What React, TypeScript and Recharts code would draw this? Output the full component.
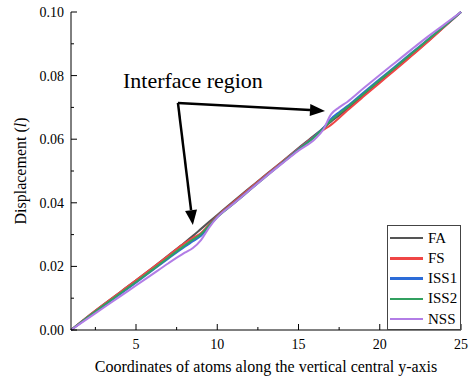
import React from 'react';
import { LineChart, Line, XAxis, YAxis, Legend, ReferenceLine, Label } from 'recharts';

// x positions of the atoms (half steps near the two interfaces)
const X = [1, 2, 3, 4, 5, 6, 7, 8, 8.5, 9, 9.5, 10, 11, 12, 13, 14, 15, 16, 16.5, 17, 17.5, 18, 19, 20, 21, 22, 23, 24, 25];

const FA = [0, 0.0041, 0.008, 0.0118, 0.0156, 0.0195, 0.0235, 0.0275, 0.0296, 0.0318, 0.034, 0.0362, 0.0405, 0.0447, 0.0489, 0.053, 0.0572, 0.0613, 0.0634, 0.0655, 0.0675, 0.0696, 0.0738, 0.078, 0.0823, 0.0866, 0.091, 0.0955, 0.1];
const FS = [0, 0.0041, 0.008, 0.0118, 0.0156, 0.0195, 0.0234, 0.0273, 0.029, 0.0305, 0.0332, 0.0358, 0.0402, 0.0445, 0.0487, 0.0529, 0.057, 0.061, 0.0628, 0.0645, 0.0667, 0.069, 0.0734, 0.0777, 0.082, 0.0864, 0.0908, 0.0954, 0.1];
const ISS1 = [0, 0.0038, 0.0075, 0.0112, 0.0149, 0.0187, 0.0225, 0.0262, 0.0279, 0.0296, 0.0327, 0.0355, 0.0398, 0.0441, 0.0484, 0.0526, 0.0568, 0.0609, 0.0634, 0.0664, 0.0685, 0.0704, 0.0747, 0.0789, 0.0831, 0.0873, 0.0915, 0.0957, 0.1];
const ISS2 = [0, 0.0039, 0.0077, 0.0114, 0.0151, 0.0189, 0.0228, 0.0266, 0.0284, 0.0301, 0.0329, 0.0355, 0.0397, 0.044, 0.0483, 0.0525, 0.0567, 0.0608, 0.0632, 0.0659, 0.068, 0.07, 0.0743, 0.0786, 0.0828, 0.0871, 0.0914, 0.0957, 0.1];
const NSS = [0, 0.0035, 0.007, 0.0105, 0.014, 0.0175, 0.021, 0.0243, 0.0258, 0.0283, 0.0322, 0.0354, 0.0397, 0.044, 0.0483, 0.0524, 0.0564, 0.06, 0.0628, 0.0678, 0.07, 0.0717, 0.076, 0.0802, 0.0843, 0.0884, 0.0924, 0.0962, 0.1];

const X_TICKS = [2.5, 5, 7.5, 10, 12.5, 15, 17.5, 20, 22.5, 25];
const Y_TICKS = [0, 0.01, 0.02, 0.03, 0.04, 0.05, 0.06, 0.07, 0.08, 0.09, 0.1];

// annotation arrows, in data units
const ARROW_FROM = { x: 7.58, y: 0.0714 };
const ARROW_TO = [{ x: 8.5, y: 0.033 }, { x: 16.63, y: 0.0689 }];

const SERIES = [
  { key: 'FA', values: FA, color: '#555555' },
  { key: 'FS', values: FS, color: '#ef4646' },
  { key: 'ISS1', values: ISS1, color: '#2c6cd8' },
  { key: 'ISS2', values: ISS2, color: '#31a060' },
  { key: 'NSS', values: NSS, color: '#b27de6' },
];

const data = X.map((x, i) => {
  const row: any = { x };
  SERIES.forEach((s) => (row[s.key] = s.values[i]));
  return row;
});

const FONT = '"Liberation Serif", "Times New Roman", serif';

const XTick = ({ x, y, payload, top }: any) => {
  const v = payload.value;
  const major = v % 5 === 0;
  const len = major ? 6 : 3;
  return (
    <g>
      <line x1={x} x2={x} y1={y} y2={top ? y + len : y - len} stroke="#000" strokeWidth={1} />
      {!top && major && (
        <text x={x} y={y + 19} textAnchor="middle" fontSize={14} fontFamily={FONT} fill="#000">
          {v}
        </text>
      )}
    </g>
  );
};

const YTick = ({ x, y, payload, right }: any) => {
  const v = payload.value;
  const major = Math.round(v * 100) % 2 === 0;
  const len = major ? 6 : 3;
  return (
    <g>
      <line x1={x} x2={right ? x - len : x + len} y1={y} y2={y} stroke="#000" strokeWidth={1} />
      {!right && major && (
        <text x={x - 7} y={y + 5} textAnchor="end" fontSize={14} fontFamily={FONT} fill="#000">
          {v.toFixed(2)}
        </text>
      )}
    </g>
  );
};

const Arrow = (props: any) => {
  const { x1, y1, x2, y2 } = props;
  const ang = Math.atan2(y2 - y1, x2 - x1);
  const len = 15;
  const half = 6;
  const bx = x2 - len * Math.cos(ang);
  const by = y2 - len * Math.sin(ang);
  const px = -Math.sin(ang) * half;
  const py = Math.cos(ang) * half;
  return (
    <g>
      <line x1={x1} y1={y1} x2={bx} y2={by} stroke="#000" strokeWidth={2.5} />
      <polygon points={`${x2},${y2} ${bx + px},${by + py} ${bx - px},${by - py}`} fill="#000" />
    </g>
  );
};

const LegendBox = () => (
  <div
    style={{
      border: '1px solid #444',
      background: '#fff',
      boxSizing: 'border-box',
      width: 74,
      height: 105,
      paddingTop: 2,
      paddingLeft: 2,
      fontFamily: FONT,
      fontSize: 15,
      color: '#000',
    }}
  >
    {SERIES.map((s) => (
      <div key={s.key} style={{ display: 'flex', alignItems: 'center', height: 20.25 }}>
        <span style={{ display: 'inline-block', width: 33, height: 2.5, background: s.color, marginRight: 5 }} />
        <span>{s.key}</span>
      </div>
    ))}
  </div>
);

export default function App() {
  return (
    <div style={{ position: 'absolute', left: 0, top: 0, width: 469, height: 379, background: '#fff', fontFamily: FONT }}>
      <LineChart width={469} height={379} data={data} margin={{ top: 12, right: 8, bottom: 0, left: 0 }}>
        <XAxis
          dataKey="x"
          type="number"
          domain={[1, 25]}
          ticks={X_TICKS}
          interval={0}
          tickSize={0}
          tickMargin={0}
          height={49}
          stroke="#000"
          tick={<XTick />}
        >
          <Label
            content={({ viewBox }: any) => (
              <text x={viewBox.x + viewBox.width / 2} y={viewBox.y + 42} textAnchor="middle" fontSize={16} fontFamily={FONT} fill="#000">
                Coordinates of atoms along the vertical central y-axis
              </text>
            )}
          />
        </XAxis>
        <XAxis
          xAxisId="top"
          orientation="top"
          type="number"
          domain={[1, 25]}
          ticks={X_TICKS}
          interval={0}
          tickSize={0}
          tickMargin={0}
          height={0}
          stroke="#000"
          tick={<XTick top />}
        />
        <YAxis
          type="number"
          domain={[0, 0.1]}
          ticks={Y_TICKS}
          interval={0}
          tickSize={0}
          tickMargin={0}
          width={71}
          stroke="#000"
          tick={<YTick />}
        >
          <Label
            content={({ viewBox }: any) => {
              const cx = 26;
              const cy = viewBox.y + viewBox.height / 2;
              return (
                <text x={cx} y={cy} transform={`rotate(-90, ${cx}, ${cy})`} textAnchor="middle" fontSize={16} fontFamily={FONT} fill="#000">
                  Displacement (<tspan fontStyle="italic">l</tspan>)
                </text>
              );
            }}
          />
        </YAxis>
        <YAxis
          yAxisId="right"
          orientation="right"
          type="number"
          domain={[0, 0.1]}
          ticks={Y_TICKS}
          interval={0}
          tickSize={0}
          tickMargin={0}
          width={0}
          stroke="#000"
          tick={<YTick right />}
        />
        {SERIES.map((s) => (
          <Line
            key={s.key}
            type="monotone"
            dataKey={s.key}
            stroke={s.color}
            strokeWidth={2}
            dot={false}
            isAnimationActive={false}
          />
        ))}
        {ARROW_TO.map((t, i) => (
          <ReferenceLine key={i} segment={[ARROW_FROM, t]} ifOverflow="visible" shape={<Arrow />} />
        ))}
        <Legend
          verticalAlign="middle"
          align="center"
          content={<LegendBox />}
          wrapperStyle={{ left: 387, top: 225, width: 74, height: 105 }}
        />
      </LineChart>
      <div
        style={{
          position: 'absolute',
          left: 123,
          top: 70,
          fontSize: 22,
          lineHeight: 1,
          fontFamily: FONT,
          color: '#000',
          whiteSpace: 'nowrap',
        }}
      >
        Interface region
      </div>
    </div>
  );
}
